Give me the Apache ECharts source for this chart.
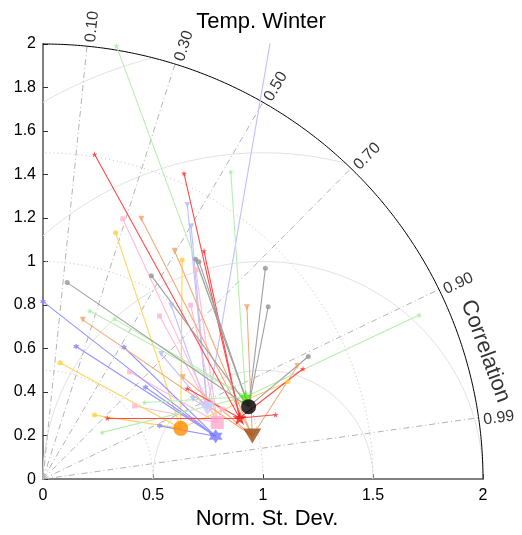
<!DOCTYPE html>
<html>
<head>
<meta charset="utf-8">
<script src="https://cdn.jsdelivr.net/npm/echarts@6/dist/echarts.min.js"></script>
<style>
html,body{margin:0;padding:0;background:#fff}
#chart{width:522px;height:535px}
</style>
</head>
<body>
<div id="chart"></div>
<script>
// Taylor diagram, winter temperature. Every model is [normalised std dev, correlation].
const corrTicks = [0.10, 0.30, 0.50, 0.70, 0.90, 0.99];
const corrTickLabels = ['0.10', '0.30', '0.50', '0.70', '0.90', '0.99'];
const stdArcs = [0.5, 1.0, 1.5];
const rmsArcs = [0.5, 1.0, 1.5, 2.0];
const xTickLabels = ['0', '0.5', '1', '1.5', '2'];
const yTickLabels = ['0', '0.2', '0.4', '0.6', '0.8', '1', '1.2', '1.4', '1.6', '1.8', '2'];

// ensemble means
const redMean = [0.937, 0.954];
const blackMean = [0.992, 0.942];
const greenMean = [0.996, 0.925];
const brownMean = [0.972, 0.979];
const orangeMean = [0.668, 0.937];
const pinkMean = [0.834, 0.950];
const blueMean = [0.809, 0.970];
const lavenderMean = [0.815, 0.917];

// ensemble members
const redMembers = [[1.511, 0.155], [1.544, 0.415], [1.279, 0.572], [0.405, 0.721], [0.777, 0.844], [1.098, 0.963], [1.286, 0.919]];
const grayMembers = [[0.910, 0.121], [1.057, 0.466], [1.226, 0.566], [1.225, 0.579], [1.400, 0.722], [1.294, 0.791], [1.331, 0.906]];
const greenMembers = [[2.02, 0.165], [1.651, 0.517], [1.869, 0.915], [0.802, 0.264], [0.805, 0.404], [0.581, 0.795], [0.344, 0.781]];
const sandyMembers = [[1.277, 0.350], [1.208, 0.495], [0.754, 0.240], [0.790, 0.805], [1.218, 0.761], [1.268, 0.912]];
const yellowMembers = [[1.179, 0.280], [1.189, 0.532], [0.540, 0.144], [0.376, 0.623], [1.200, 0.928]];
const pinkMembers = [[1.250, 0.290], [1.187, 0.585], [1.044, 0.643], [0.918, 0.577], [0.631, 0.624], [0.535, 0.778], [0.876, 0.930]];
const blueMembers = [[0.816, 0.0], [0.629, 0.741], [0.584, 0.908], [0.628, 0.240], [0.709, 0.519]];
const lavenderMembers = [[2.31, 0.451], [1.420, 0.462], [1.342, 0.502], [0.988, 0.590], [0.787, 0.683], [0.775, 0.880]];

const FONT = 'Liberation Sans';
const STAR = 'path://M0,-100L22.45,-30.9L95.1,-30.9L36.3,11.8L58.8,80.9L0,38.2L-58.8,80.9L-36.3,11.8L-95.1,-30.9L-22.45,-30.9Z';
const HEXAGRAM = 'path://M0,-100L86.6,50L-86.6,50Z M0,100L-86.6,-50L86.6,-50Z';

// (std, corr) -> plane position
function toXY(p) {
  const s = p[0], c = p[1];
  return [s * c, s * Math.sqrt(Math.max(0, 1 - c * c))];
}

function arc(cx, R, a0, a1, n) {
  const pts = [];
  for (let i = 0; i <= n; i++) {
    const a = a0 + (a1 - a0) * i / n;
    pts.push([cx + R * Math.cos(a), R * Math.sin(a)]);
  }
  return pts;
}

function guide(data, color, type) {
  return {
    type: 'line', data: data, symbol: 'none', showSymbol: false, silent: true,
    clip: false, z: 1, lineStyle: { color: color, width: 1, type: type || 'solid' }
  };
}

const series = [];

// centred-RMS circles about the reference point (1, 0), kept inside the outer arc
rmsArcs.forEach(R => {
  const lo = Math.acos(Math.min(1, (3 - R * R) / (2 * R)));
  const hi = Math.acos(Math.max(-1, -1 / R));
  series.push(guide(arc(1, R, lo, hi, 120), '#e2e2e2'));
});
// standard deviation arcs
stdArcs.forEach(R => series.push(guide(arc(0, R, 0, Math.PI / 2, 120), '#c4c4c4', [1, 3])));
// correlation rays
corrTicks.forEach(c => {
  series.push(guide([[0, 0], toXY([2, c])], '#b4b4b4', [6, 3, 1, 3]));
});
// outer boundary
series.push(guide(arc(0, 2, 0, Math.PI / 2, 240), '#000000'));

// correlation tick labels along the outer arc
series.push({
  type: 'scatter', silent: true, clip: false, z: 6,
  symbolSize: 0.1, itemStyle: { color: 'transparent' },
  label: {
    show: true, position: 'inside', align: 'left', verticalAlign: 'middle',
    formatter: '{b}', color: '#000', fontSize: 16, fontFamily: FONT
  },
  data: corrTicks.map((c, i) => {
    const th = Math.acos(c) - 0.007;
    return {
      name: corrTickLabels[i],
      value: [2.02 * Math.cos(th), 2.02 * Math.sin(th)],
      label: { rotate: th * 180 / Math.PI }
    };
  })
});

// axis caption for the angular coordinate
const capAngle = 16.3 * Math.PI / 180;
series.push({
  type: 'scatter', silent: true, clip: false, z: 6,
  symbolSize: 0.1, itemStyle: { color: 'transparent' },
  label: {
    show: true, position: 'inside', align: 'center', verticalAlign: 'middle',
    formatter: '{b}', color: '#000', fontSize: 22, fontFamily: FONT, rotate: -70
  },
  data: [{ name: 'Correlation', value: [2.095 * Math.cos(capAngle), 2.095 * Math.sin(capAngle)] }]
});

const groups = [
  { mean: lavenderMean, members: lavenderMembers, line: '#c0c0ff', dot: '#b8b8ff', color: '#ccccff', symbol: 'triangle', rot: 180, size: [17, 14], dotSize: 6 },
  { mean: pinkMean, members: pinkMembers, line: '#ffbcdb', dot: '#ffb4d6', color: '#ffaacc', symbol: 'rect', rot: 0, size: 13, dotSize: 5 },
  { mean: orangeMean, members: yellowMembers, line: '#ffd45c', dot: '#ffd040', color: '#ff8c00', symbol: 'circle', rot: 0, size: 15, dotSize: 5 },
  { mean: blueMean, members: blueMembers, line: '#9494ff', dot: '#8888ff', color: '#7878ff', symbol: HEXAGRAM, rot: 0, size: 14, dotSize: 6 },
  { mean: brownMean, members: sandyMembers, line: '#f5ab7a', dot: '#f2a068', color: '#9a4e12', symbol: 'triangle', rot: 180, size: [18, 15], dotSize: 6 },
  { mean: greenMean, members: greenMembers, line: '#b8eeb0', dot: '#a8eca0', color: '#44ee00', symbol: STAR, rot: 0, size: 14, dotSize: 6 },
  { mean: redMean, members: redMembers, line: '#ff4a4a', dot: '#ff3838', color: '#ee1111', symbol: STAR, rot: 0, size: 14, dotSize: 6 },
  { mean: blackMean, members: grayMembers, line: '#a0a0a0', dot: '#969696', color: '#000000', symbol: 'circle', rot: 0, size: 15, dotSize: 5 }
];

// member-to-mean links
groups.forEach(g => {
  series.push({
    type: 'lines', coordinateSystem: 'cartesian2d', silent: true, clip: true, z: 2,
    lineStyle: { color: g.line, width: 1.1, opacity: 1 },
    data: g.members.map(m => ({ coords: [toXY(g.mean), toXY(m)] }))
  });
});
// member markers
groups.forEach(g => {
  series.push({
    type: 'scatter', silent: true, z: 3, clip: true,
    symbol: g.symbol, symbolRotate: g.rot, symbolSize: g.dotSize,
    itemStyle: { color: g.dot },
    data: g.members.map(toXY)
  });
});
// ensemble means
groups.forEach((g, i) => {
  series.push({
    type: 'scatter', silent: true, z: 5 + i * 0.01, clip: false,
    symbol: g.symbol, symbolRotate: g.rot, symbolSize: g.size,
    itemStyle: { color: g.color },
    data: [toXY(g.mean)]
  });
});

const chart = echarts.init(document.getElementById('chart'), null, { renderer: 'canvas' });
chart.setOption({
  animation: false,
  backgroundColor: '#ffffff',
  textStyle: { fontFamily: FONT },
  title: {
    text: 'Temp. Winter', left: 'center', top: 6,
    textStyle: { fontSize: 22, fontWeight: 'normal', color: '#000', fontFamily: FONT }
  },
  grid: { left: 43, right: 39, top: 44, bottom: 53, containLabel: false },
  xAxis: {
    type: 'value', min: 0, max: 2, interval: 0.5,
    name: 'Norm. St. Dev.', nameLocation: 'middle', nameGap: 27,
    nameTextStyle: { fontSize: 22, color: '#000', fontFamily: FONT, padding: [0, 0, 0, 8] },
    axisLine: { show: true, onZero: false, lineStyle: { color: '#808080', width: 2 } },
    axisTick: { show: true, inside: true, length: 5, lineStyle: { color: '#333' } },
    axisLabel: { color: '#000', fontSize: 16, margin: 8, fontFamily: FONT,
      formatter: (v) => xTickLabels[Math.round(v / 0.5)] },
    splitLine: { show: false }
  },
  yAxis: {
    type: 'value', min: 0, max: 2, interval: 0.2,
    axisLine: { show: true, onZero: false, lineStyle: { color: '#808080', width: 2 } },
    axisTick: { show: true, inside: true, length: 5, lineStyle: { color: '#333' } },
    axisLabel: { color: '#000', fontSize: 16, margin: 7, fontFamily: FONT,
      formatter: (v) => yTickLabels[Math.round(v / 0.2)] },
    splitLine: { show: false }
  },
  series: series
});
</script>
</body>
</html>
